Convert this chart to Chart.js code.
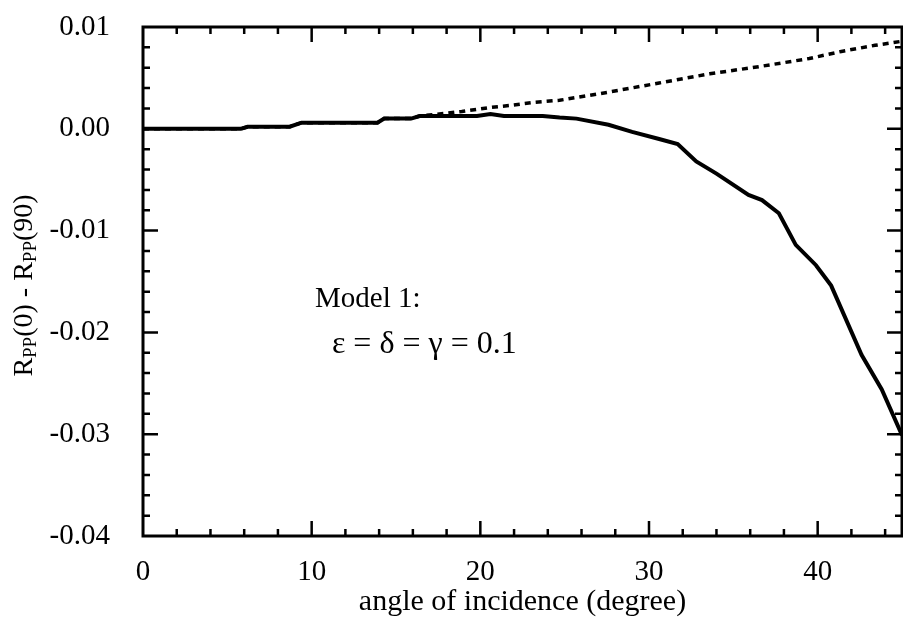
<!DOCTYPE html>
<html>
<head>
<meta charset="utf-8">
<script src="https://cdn.jsdelivr.net/npm/chart.js@4.4.0/dist/chart.umd.min.js"></script>
<style>
  html, body { margin: 0; padding: 0; background: #fff; }
</style>
</head>
<body>
<canvas id="chart" width="903" height="626"></canvas>
<script>
// solid curve
const solidAngles = [0, 5.8, 6.2, 8.7, 9.4, 13.9, 14.3, 15.9, 16.4, 19.8, 20.6, 21.4, 23.7, 24.7, 25.7, 27.6, 29.0, 30.6, 31.7, 32.8, 34.0, 35.9, 36.7, 37.7, 38.7, 39.9, 40.8, 42.6, 43.8, 45];
const solidValues = [0, 0, 0.0002, 0.0002, 0.0006, 0.0006, 0.001, 0.001, 0.00125, 0.00125, 0.00145, 0.00125, 0.00125, 0.0011, 0.001, 0.0004, -0.0003, -0.001, -0.0015, -0.0032, -0.0044, -0.0065, -0.007, -0.0083, -0.0114, -0.0134, -0.0154, -0.0222, -0.0256, -0.0301];

// dotted curve
const dottedAngles = [0, 5.8, 6.2, 8.7, 9.4, 13.9, 14.3, 15.9, 16.4, 18.9, 20.6, 21.8, 23.2, 24.7, 27.6, 30.6, 33.6, 36.5, 39.5, 41.4, 43.4, 45];
const dottedValues = [0, 0, 0.0002, 0.0002, 0.0006, 0.0006, 0.001, 0.001, 0.00125, 0.0017, 0.0021, 0.0023, 0.0026, 0.0028, 0.0036, 0.0045, 0.0054, 0.0061, 0.0069, 0.0076, 0.0082, 0.0086];

const xTickLabels = [0, 10, 20, 30, 40];
const yTickLabels = [0.01, 0.00, -0.01, -0.02, -0.03, -0.04];

const serif = "'Liberation Serif', 'DejaVu Serif', serif";

function toPoints(xs, ys) {
  return xs.map((x, i) => ({ x: x, y: ys[i] }));
}

// frame + inward ticks on all four sides
const frameTicks = {
  id: "frameTicks",
  afterDraw(chart) {
    const { ctx, chartArea: a, scales } = chart;
    const xs = scales.x, ys = scales.y;
    ctx.save();
    ctx.strokeStyle = "#000";
    ctx.lineWidth = 3;
    ctx.strokeRect(a.left, a.top, a.right - a.left, a.bottom - a.top);
    ctx.lineWidth = 2.5;
    ctx.beginPath();
    for (let v = 2; v < 45; v += 2) {
      const px = xs.getPixelForValue(v);
      const len = v % 10 === 0 ? 15 : 7;
      ctx.moveTo(px, a.bottom); ctx.lineTo(px, a.bottom - len);
      ctx.moveTo(px, a.top); ctx.lineTo(px, a.top + len);
    }
    for (let i = 1; i < 25; i++) {
      const v = -0.04 + i * 0.002;
      const py = ys.getPixelForValue(v);
      const len = i % 5 === 0 ? 15 : 7;
      ctx.moveTo(a.left, py); ctx.lineTo(a.left + len, py);
      ctx.moveTo(a.right, py); ctx.lineTo(a.right - len, py);
    }
    ctx.stroke();
    ctx.restore();
  }
};

// y axis title with subscripts, and the model note
const labels = {
  id: "labels",
  afterDraw(chart) {
    const { ctx, chartArea: a, scales } = chart;
    ctx.save();
    ctx.fillStyle = "#000";
    ctx.textBaseline = "middle";

    const parts = [
      ["R", 28, 0], ["PP", 19, 6], ["(0) - R", 28, 0], ["PP", 19, 6], ["(90)", 28, 0]
    ];
    let total = 0;
    parts.forEach(p => { ctx.font = p[1] + "px " + serif; total += ctx.measureText(p[0]).width; });
    ctx.translate(25, (a.top + a.bottom) / 2 + 4);
    ctx.rotate(-Math.PI / 2);
    let cx = -total / 2;
    parts.forEach(p => {
      ctx.font = p[1] + "px " + serif;
      ctx.fillText(p[0], cx, p[2]);
      cx += ctx.measureText(p[0]).width;
    });
    ctx.setTransform(1, 0, 0, 1, 0, 0);

    ctx.textAlign = "left";
    ctx.font = "29px " + serif;
    ctx.fillText("Model 1:", scales.x.getPixelForValue(10.2), scales.y.getPixelForValue(-0.0168));
    ctx.font = "32px " + serif;
    ctx.fillText("ε = δ = γ = 0.1", scales.x.getPixelForValue(11.2), scales.y.getPixelForValue(-0.0212));
    ctx.restore();
  }
};

const chart = new Chart(document.getElementById("chart"), {
  type: "line",
  data: {
    datasets: [
      {
        data: toPoints(dottedAngles, dottedValues),
        borderColor: "#000",
        borderWidth: 3.5,
        borderDash: [6, 5],
        pointRadius: 0,
        tension: 0
      },
      {
        data: toPoints(solidAngles, solidValues),
        borderColor: "#000",
        borderWidth: 4,
        pointRadius: 0,
        tension: 0
      }
    ]
  },
  options: {
    responsive: false,
    animation: false,
    layout: { padding: { left: 0, top: 27, right: 1, bottom: 0 } },
    plugins: { legend: { display: false }, tooltip: { enabled: false } },
    scales: {
      x: {
        type: "linear",
        min: 0,
        max: 45,
        grid: { display: false },
        border: { display: false },
        afterBuildTicks: (s) => { s.ticks = xTickLabels.map(v => ({ value: v })); },
        afterFit: (s) => { s.height = 90; s.paddingLeft = 0; s.paddingRight = 0; },
        ticks: {
          color: "#000",
          padding: 11,
          maxRotation: 0,
          font: { family: serif, size: 29 },
          callback: (v) => String(v)
        },
        title: {
          display: true,
          text: "angle of incidence (degree)",
          color: "#000",
          font: { family: serif, size: 30 },
          padding: { top: 0, bottom: 6 }
        }
      },
      y: {
        type: "linear",
        min: -0.04,
        max: 0.01,
        grid: { display: false },
        border: { display: false },
        afterBuildTicks: (s) => { s.ticks = yTickLabels.map(v => ({ value: v })); },
        afterFit: (s) => { s.width = 143; s.paddingTop = 0; s.paddingBottom = 0; },
        ticks: {
          color: "#000",
          padding: 25,
          font: { family: serif, size: 29 },
          callback: (v) => v.toFixed(2)
        }
      }
    }
  },
  plugins: [frameTicks, labels]
});
</script>
</body>
</html>
